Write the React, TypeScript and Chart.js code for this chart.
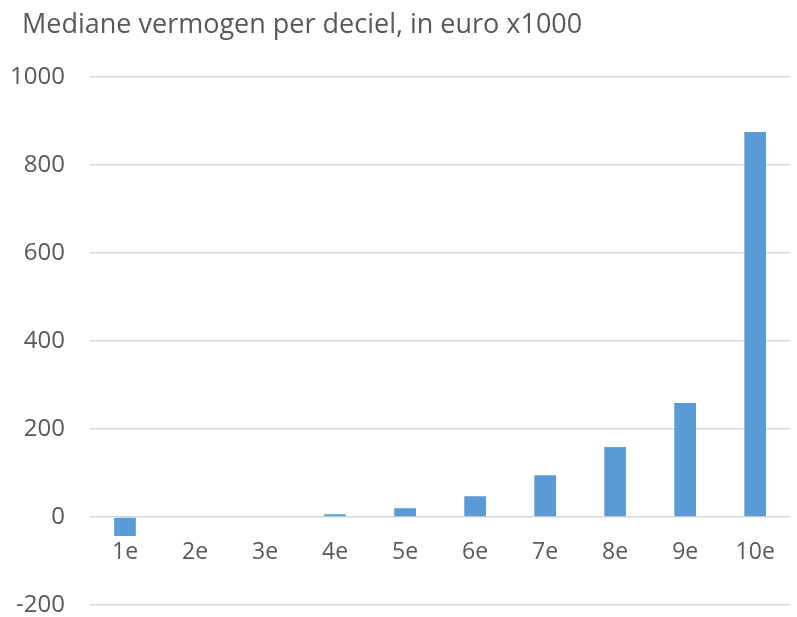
import { useEffect, useRef } from 'react';
import { Chart, registerables } from 'chart.js';

Chart.register(...registerables);

const categories = ['1e', '2e', '3e', '4e', '5e', '6e', '7e', '8e', '9e', '10e'];
const values = [-43, 0, 0, 6, 20, 47, 95, 159, 259, 875];
const yMin = -200;
const yMax = 1000;
const yStep = 200;
const titleText = 'Mediane vermogen per deciel, in euro x1000';

const textColor = '#595959';
const barColor = '#5B9BD5';
const gridColor = '#D9D9D9';
const fontFamily = "'Open Sans', 'Noto Sans', sans-serif";

const titlePlugin = {
  id: 'fixedTitle',
  afterDraw(chart: any) {
    const ctx = chart.ctx as CanvasRenderingContext2D;
    ctx.save();
    ctx.font = `27px ${fontFamily}`;
    ctx.fillStyle = textColor;
    ctx.textAlign = 'left';
    ctx.textBaseline = 'alphabetic';
    ctx.fillText(titleText, 22, 33);
    ctx.restore();
  },
};

export default function App() {
  const ref = useRef<HTMLCanvasElement>(null);

  useEffect(() => {
    document.body.style.margin = '0';
    const chart = new Chart(ref.current as HTMLCanvasElement, {
      type: 'bar',
      data: {
        labels: categories,
        datasets: [
          {
            data: values,
            backgroundColor: barColor,
            categoryPercentage: 1,
            barPercentage: 0.31,
          },
        ],
      },
      plugins: [titlePlugin],
      options: {
        animation: false,
        responsive: false,
        layout: { padding: { left: 0, right: 4, top: 77, bottom: 12 } },
        plugins: {
          legend: { display: false },
          tooltip: { enabled: false },
          title: { display: false },
        },
        scales: {
          x: {
            position: { y: 0 },
            grid: { display: false, drawTicks: false },
            border: { display: false },
            ticks: {
              color: textColor,
              font: { family: fontFamily, size: 23 },
              padding: 22,
            },
            afterFit: (s: any) => {
              s.height = 0;
            },
          },
          y: {
            min: yMin,
            max: yMax,
            ticks: {
              stepSize: yStep,
              padding: 25,
              color: textColor,
              font: { family: fontFamily, size: 24 },
              callback: (v: any) => String(v),
            },
            grid: { color: gridColor, lineWidth: 1.5, drawTicks: false },
            border: { display: false },
            afterFit: (s: any) => {
              s.width = 90;
              s.paddingTop = 0;
              s.paddingBottom = 0;
            },
          },
        },
      },
    });
    return () => chart.destroy();
  }, []);

  return <canvas ref={ref} width={797} height={617} style={{ display: 'block' }} />;
}
